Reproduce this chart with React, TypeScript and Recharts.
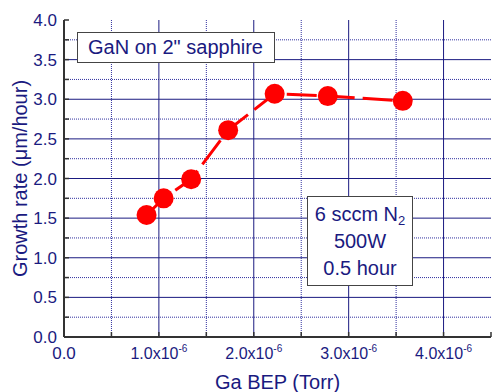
import React from 'react';
import { LineChart, Line, XAxis, YAxis, ReferenceLine } from 'recharts';

// Ga BEP (Torr) vs growth rate (um/hour)
const gaBep = [0.87e-6, 1.05e-6, 1.34e-6, 1.73e-6, 2.22e-6, 2.78e-6, 3.57e-6];
const growthRate = [1.54, 1.75, 1.99, 2.61, 3.07, 3.04, 2.98];

const xTicks = [0, 0.5e-6, 1e-6, 1.5e-6, 2e-6, 2.5e-6, 3e-6, 3.5e-6, 4e-6, 4.5e-6];
const xMajor = [1e-6, 2e-6, 3e-6, 4e-6];
const xMinor = [0.5e-6, 1.5e-6, 2.5e-6, 3.5e-6];
const yTicks = [0, 0.25, 0.5, 0.75, 1, 1.25, 1.5, 1.75, 2, 2.25, 2.5, 2.75, 3, 3.25, 3.5, 3.75, 4];
const yMajor = [0.5, 1, 1.5, 2, 2.5, 3, 3.5];
const yMinor = [0.25, 0.75, 1.25, 1.75, 2.25, 2.75, 3.25, 3.75];

const NAVY = '#1a1a80';
const FONT = '"Liberation Sans", Arial, sans-serif';

const data = gaBep.map((x, i) => ({ x, rate: growthRate[i] }));

const isMajorX = (v: number) => Math.round(v / 0.5e-6) % 2 === 0;

const XTick = (props: any) => {
  const { x, y, payload } = props;
  const v = payload.value;
  if (!isMajorX(v)) return null;
  if (v === 0) {
    return (
      <text x={x} y={y} textAnchor="middle" fill={NAVY} fontSize={17} fontFamily={FONT}>
        0.0
      </text>
    );
  }
  return (
    <text x={x} y={y} textAnchor="middle" fill={NAVY} fontSize={16} fontFamily={FONT}>
      {(v / 1e-6).toFixed(1)}x10
      <tspan dy={-7} fontSize={10}>-6</tspan>
    </text>
  );
};

const boxStyle: React.CSSProperties = {
  position: 'absolute',
  background: '#fff',
  border: '1px solid #444',
  color: NAVY,
  fontFamily: FONT,
  fontSize: 20,
  boxSizing: 'border-box',
};

export default function App() {
  return (
    <div style={{ position: 'absolute', left: 0, top: 0, width: 492, height: 392, background: '#fff' }}>
      <LineChart
        width={492}
        height={392}
        data={data}
        margin={{ top: 20, right: 1, left: 0, bottom: 0 }}
      >
        <XAxis
          dataKey="x"
          type="number"
          domain={[0, 4.5e-6]}
          ticks={xTicks}
          interval={0}
          height={55}
          tick={<XTick />}
          tickSize={-5}
          tickMargin={27}
          axisLine={{ stroke: '#333', strokeWidth: 2 }}
          tickLine={{ stroke: '#333', strokeWidth: 1.5 }}
          label={{
            value: 'Ga BEP (Torr)',
            position: 'center',
            dy: 17,
            fill: NAVY,
            fontSize: 20,
            fontFamily: FONT,
          }}
        />
        <XAxis
          xAxisId="top"
          orientation="top"
          type="number"
          domain={[0, 4.5e-6]}
          ticks={xTicks}
          interval={0}
          height={0}
          tick={false}
          tickSize={-5}
          axisLine={{ stroke: '#333', strokeWidth: 2 }}
          tickLine={{ stroke: '#333', strokeWidth: 1.5 }}
        />
        <YAxis
          type="number"
          domain={[0, 4]}
          ticks={yTicks}
          interval={0}
          width={64}
          tickSize={-5}
          tickMargin={12}
          tickFormatter={(v: number) => (Math.round(v * 4) % 2 === 0 ? v.toFixed(1) : '')}
          tick={{ fill: NAVY, fontSize: 17, fontFamily: FONT }}
          axisLine={{ stroke: '#333', strokeWidth: 2 }}
          tickLine={{ stroke: '#333', strokeWidth: 1.5 }}
          label={{
            value: 'Growth rate (\u03bcm/hour)',
            angle: -90,
            position: 'center',
            dx: -12,
            fill: NAVY,
            fontSize: 20,
            fontFamily: FONT,
          }}
        />
        <YAxis
          yAxisId="right"
          orientation="right"
          type="number"
          domain={[0, 4]}
          ticks={yTicks}
          interval={0}
          width={0}
          tick={false}
          tickSize={-5}
          axisLine={{ stroke: '#333', strokeWidth: 2 }}
          tickLine={{ stroke: '#333', strokeWidth: 1.5 }}
        />
        {xMinor.map((v) => (
          <ReferenceLine key={'xm' + v} x={v} stroke="#3030a0" strokeDasharray="1 1" />
        ))}
        {yMinor.map((v) => (
          <ReferenceLine key={'ym' + v} y={v} stroke="#3030a0" strokeDasharray="1 1" />
        ))}
        {xMajor.map((v) => (
          <ReferenceLine key={'xM' + v} x={v} stroke={NAVY} />
        ))}
        {yMajor.map((v) => (
          <ReferenceLine key={'yM' + v} y={v} stroke={NAVY} />
        ))}
        <Line
          type="linear"
          dataKey="rate"
          stroke="#ff0000"
          strokeWidth={3}
          strokeDasharray="30 8"
          dot={{ r: 10, fill: '#ff0000', stroke: 'none' }}
          activeDot={false}
          isAnimationActive={false}
        />
      </LineChart>
      <div
        style={{
          ...boxStyle,
          left: 77,
          top: 32,
          width: 198,
          height: 31,
          lineHeight: '29px',
          paddingLeft: 10,
          whiteSpace: 'nowrap',
        }}
      >
        GaN on 2" sapphire
      </div>
      <div
        style={{
          ...boxStyle,
          left: 307,
          top: 196,
          width: 106,
          height: 90,
          textAlign: 'center',
          lineHeight: '27px',
          paddingTop: 4,
          whiteSpace: 'nowrap',
        }}
      >
        <div>
          6 sccm N<sub style={{ fontSize: 13, verticalAlign: -4, lineHeight: 0 }}>2</sub>
        </div>
        <div>500W</div>
        <div>0.5 hour</div>
      </div>
    </div>
  );
}
